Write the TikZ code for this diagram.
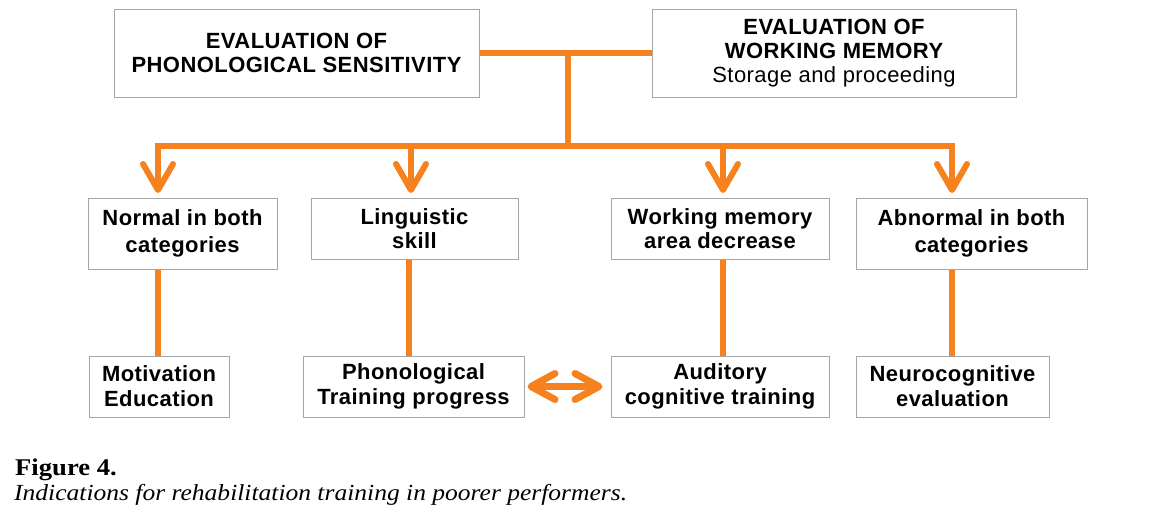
\documentclass[tikz,border=0pt]{standalone}
\usepackage{fontspec}
\setmainfont{Liberation Sans}[LetterSpace=2]
\newfontfamily\capfont{Liberation Serif}[FakeStretch=1.11]
\usetikzlibrary{arrows.meta}
\definecolor{orng}{HTML}{F5821F}
\definecolor{bordergray}{HTML}{A6A6A6}
\tikzset{
  box/.style={draw=bordergray, line width=1pt, fill=white, align=center, inner sep=0pt,
    font=\fontsize{22}{24}\selectfont\bfseries},
  conn/.style={draw=orng, line width=6pt},
  downarrow/.style={conn, -{Straight Barb[length=26pt, width=30pt, round]}},
  dblarrow/.style={draw=orng, line width=7pt,
    {Straight Barb[length=24pt, width=26pt, round]}-{Straight Barb[length=24pt, width=26pt, round]}},
}
\begin{document}
\begin{tikzpicture}[x=1pt, y=-1pt]
\useasboundingbox (0,0) rectangle (1164,531);
% top row
\node[box, minimum width=365pt, minimum height=88pt] (phon) at (296.5,53)
  {EVALUATION OF\\PHONOLOGICAL SENSITIVITY};
\node[box, minimum width=364pt, minimum height=88pt] (wm) at (834,53)
  {EVALUATION OF\\WORKING MEMORY\\{\mdseries Storage and proceeding}};
% second row
\node[box, minimum width=189pt, minimum height=71pt] (b1) at (182.5,233.5)
  {Normal in both\\[3pt]categories};
\node[box, minimum width=207pt, minimum height=61pt] (b2) at (414.5,228.5)
  {Linguistic\\skill};
\node[box, minimum width=218pt, minimum height=61pt] (b3) at (720,228.5)
  {Working memory\\area decrease};
\node[box, minimum width=231pt, minimum height=71pt] (b4) at (971.5,233.5)
  {Abnormal in both\\[3pt]categories};
% third row
\node[box, minimum width=140pt, minimum height=61pt] (c1) at (159,386.5)
  {Motivation\\[1pt]Education};
\node[box, minimum width=221pt, minimum height=61pt] (c2) at (413.5,386.5)
  {Phonological\\[1pt]Training progress};
\node[box, minimum width=218pt, minimum height=61pt] (c3) at (720,386.5)
  {Auditory\\[1pt]cognitive training};
\node[box, minimum width=193pt, minimum height=61pt] (c4) at (952.5,386.5)
  {Neurocognitive\\[1pt]evaluation};
% coordinates
\coordinate (j1) at (568,53);
\coordinate (j2) at (568,146);
\coordinate (hl) at (155,146);
\coordinate (hr) at (955,146);
\coordinate (a1) at (158,146);
\coordinate (a2) at (411,146);
\coordinate (a3) at (723,146);
\coordinate (a4) at (952,146);
\coordinate (e1) at (158,193);
\coordinate (e2) at (411,193);
\coordinate (e3) at (723,193);
\coordinate (e4) at (952,193);
\coordinate (v1) at (158,300);
\coordinate (v2) at (409,300);
\coordinate (v3) at (723,300);
\coordinate (v4) at (952,300);
% connectors
\draw[conn] (phon.east) -- (wm.west);
\draw[conn] (j1) -- (j2);
\draw[conn] (hl) -- (hr);
\draw[downarrow] (a1) -- (e1);
\draw[downarrow] (a2) -- (e2);
\draw[downarrow] (a3) -- (e3);
\draw[downarrow] (a4) -- (e4);
\draw[conn] (b1.south -| v1) -- (c1.north -| v1);
\draw[conn] (b2.south -| v2) -- (c2.north -| v2);
\draw[conn] (b3.south -| v3) -- (c3.north -| v3);
\draw[conn] (b4.south -| v4) -- (c4.north -| v4);
\draw[dblarrow, shorten <=3pt, shorten >=8pt] (c2.east) -- (c3.west);
% caption
\node[anchor=base west, inner sep=0pt, font=\capfont\fontsize{24}{28}\selectfont\bfseries] (fig) at (15,475) {Figure 4.};
\node[anchor=base west, inner sep=0pt, font=\capfont\fontsize{23}{28}\selectfont\itshape] (cap) at (14,500)
  {Indications for rehabilitation training in poorer performers.};
\end{tikzpicture}
\end{document}
